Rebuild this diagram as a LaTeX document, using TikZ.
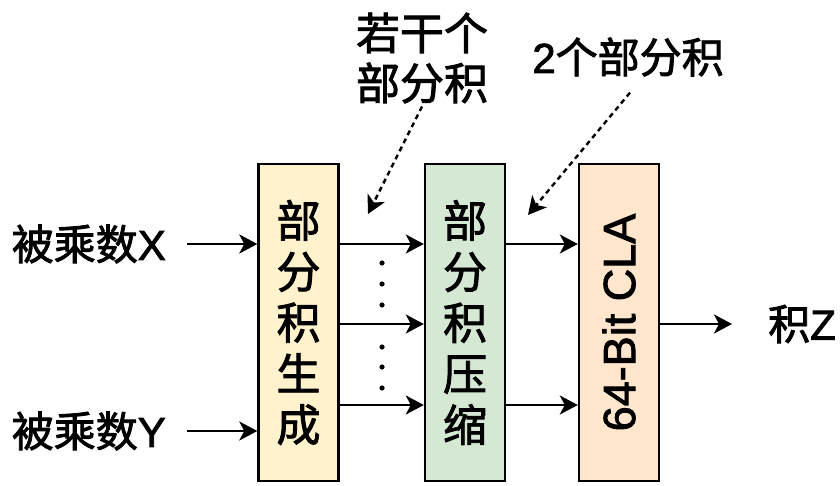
\documentclass[tikz,border=0pt]{standalone}
\usepackage{fontspec}
\setmainfont[FakeBold=2]{Liberation Sans}
\newfontfamily\cjk[FakeBold=2]{Noto Sans CJK SC}
\usetikzlibrary{arrows.meta}
\tikzset{
  blk/.style={draw=black, line width=2.4pt, minimum width=80pt, minimum height=317pt, inner sep=0pt, align=center, font=\cjk\fontsize{44}{51}\selectfont},
  lbl/.style={inner sep=0pt, align=center, font=\fontsize{42}{50}\selectfont},
  arr/.style={line width=2.4pt, -{Stealth[length=18pt,width=19pt,inset=5pt]}},
  darr/.style={line width=2.4pt, dash pattern=on 5pt off 4pt, -{Stealth[length=18pt,width=19pt,inset=5pt]}},
}
\definecolor{cy}{HTML}{FFF2CC}
\definecolor{cg}{HTML}{D5E8D4}
\definecolor{co}{HTML}{FFE6CC}
\begin{document}
\begin{tikzpicture}[x=1pt,y=-1pt]
\useasboundingbox (0,0) rectangle (840,486);
% blocks
\node[blk, fill=cy] (b1) at (298.5,322.5) {部\\分\\积\\生\\成};
\node[blk, fill=cg] (b2) at (465,322.5) {部\\分\\积\\压\\缩};
\node[blk, fill=co] (b3) at (619,322.5) {};
\node[lbl, rotate=90, font=\fontsize{45}{50}\selectfont] (cla) at (b3.center) {64-Bit CLA};
% labels
\node[lbl, anchor=east] (inX) at (166,244) {{\cjk 被乘数}X};
\node[lbl, anchor=east] (inY) at (166,431) {{\cjk 被乘数}Y};
\node[lbl, anchor=west] (outZ) at (768,324) {{\cjk 积}Z};
\node[lbl, font=\cjk\fontsize{44}{50}\selectfont] (t1) at (422,58) {若干个\\部分积};
\node[lbl] (t2) at (628,57) {2{\cjk 个部分积}};
% row coordinates
\coordinate (r1) at (0,244);
\coordinate (r2) at (0,324);
\coordinate (r3) at (0,405);
\coordinate (d1) at (368,214);
\coordinate (d2) at (528,215);
% input arrows
\draw[arr] ([xshift=21pt]inX.east) -- (b1.west |- inX.east);
\draw[arr] ([xshift=21pt]inY.east) -- (b1.west |- inY.east);
% between blocks
\draw[arr] (b1.east |- r1) -- (b2.west |- r1);
\draw[arr] (b1.east |- r2) -- (b2.west |- r2);
\draw[arr] (b1.east |- r3) -- (b2.west |- r3);
\draw[arr] (b2.east |- r1) -- (b3.west |- r1);
\draw[arr] (b2.east |- r3) -- (b3.west |- r3);
% output
\draw[arr] (b3.east |- r2) -- ([xshift=-36pt]outZ.west);
% dashed
\draw[darr] ([yshift=-3pt]t1.south) -- (d1);
\draw[darr] ([xshift=2pt,yshift=-16pt]t2.south) -- (d2);
% dots
\foreach \yy in {263,284,305,347,367,388}
  \fill (382,\yy) circle (2.6pt);
\end{tikzpicture}
\end{document}
